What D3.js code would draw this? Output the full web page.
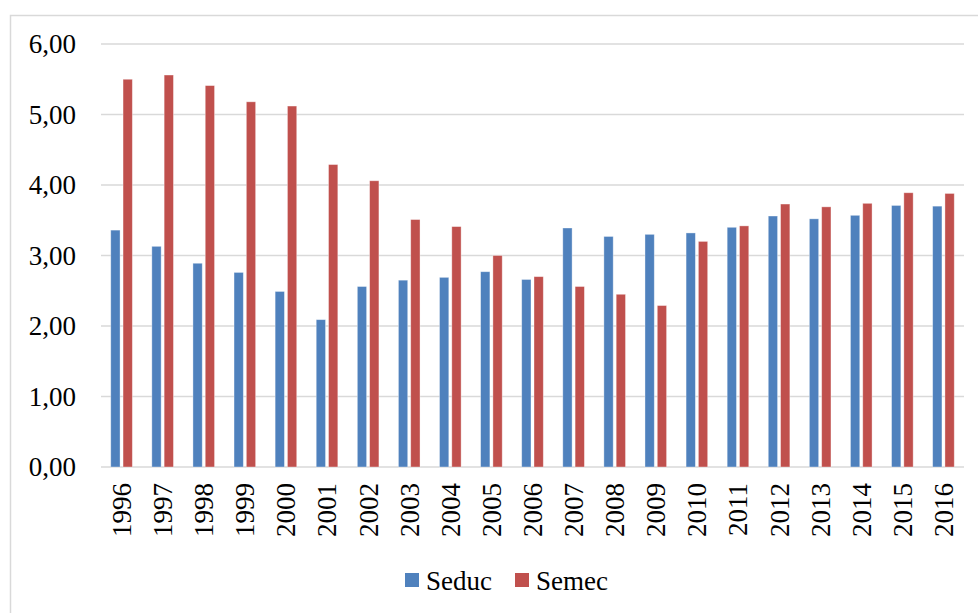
<!DOCTYPE html>
<html>
<head>
<meta charset="utf-8">
<script src="https://cdn.jsdelivr.net/npm/d3@7"></script>
<style>
  html, body { margin: 0; padding: 0; background: #fff; }
  svg { display: block; font-family: "Liberation Serif", "Times New Roman", serif; }
</style>
</head>
<body>
<svg id="chart" width="978" height="613"></svg>
<script>
const years = ["1996","1997","1998","1999","2000","2001","2002","2003","2004","2005","2006","2007","2008","2009","2010","2011","2012","2013","2014","2015","2016"];
const seduc = [3.36,3.13,2.89,2.76,2.49,2.09,2.56,2.65,2.69,2.77,2.66,3.39,3.27,3.30,3.32,3.40,3.56,3.52,3.57,3.71,3.70];
const semec = [5.50,5.56,5.41,5.18,5.12,4.29,4.06,3.51,3.41,3.00,2.70,2.56,2.45,2.29,3.20,3.42,3.73,3.69,3.74,3.89,3.88];
const seriesNames = ["Seduc","Semec"];
const seriesColors = ["#4F81BD","#C0504D"];
const yTicks = [0,1,2,3,4,5,6];
const yTickLabels = ["0,00","1,00","2,00","3,00","4,00","5,00","6,00"];

const svg = d3.select("#chart");

// outer chart border
svg.append("rect")
  .attr("x", 10.5).attr("y", 15.5)
  .attr("width", 980).attr("height", 620)
  .attr("fill", "none").attr("stroke", "#D9D9D9").attr("stroke-width", 1.5);

const x0 = d3.scaleBand().domain(years).range([101, 964]).padding(0);
const groupW = 21.6;
const x1 = d3.scaleBand().domain(seriesNames)
  .range([x0.bandwidth()/2 - groupW/2, x0.bandwidth()/2 + groupW/2])
  .paddingInner(0.244).paddingOuter(0);
const y = d3.scaleLinear().domain([0, 6]).range([467, 44]);

// gridlines
svg.append("g").selectAll("line").data(yTicks).join("line")
  .attr("x1", 101).attr("x2", 964)
  .attr("y1", d => y(d)).attr("y2", d => y(d))
  .attr("stroke", "#D9D9D9").attr("stroke-width", 1.5);

// y tick labels
svg.append("g").selectAll("text").data(yTicks).join("text")
  .attr("x", 76).attr("y", d => y(d))
  .attr("dy", "0.35em")
  .attr("text-anchor", "end")
  .attr("font-size", 27)
  .attr("fill", "#000")
  .text((d, i) => yTickLabels[i]);

// bars
const data = years.map((yr, i) => ({ year: yr, values: [seduc[i], semec[i]] }));
const groups = svg.append("g").selectAll("g").data(data).join("g")
  .attr("transform", d => `translate(${x0(d.year)},0)`);
groups.selectAll("rect").data(d => d.values.map((v, j) => ({ name: seriesNames[j], v, j })))
  .join("rect")
  .attr("x", d => x1(d.name))
  .attr("width", x1.bandwidth())
  .attr("y", d => y(d.v))
  .attr("height", d => y(0) - y(d.v))
  .attr("fill", d => seriesColors[d.j])
  .attr("stroke", "rgba(255,255,255,0.45)")
  .attr("stroke-width", 0.8);

// x tick labels (rotated)
svg.append("g").selectAll("text").data(years).join("text")
  .attr("transform", d => `translate(${x0(d) + x0.bandwidth()/2},483) rotate(-90)`)
  .attr("dy", "0.35em")
  .attr("text-anchor", "end")
  .attr("font-size", 27)
  .attr("fill", "#000")
  .text(d => d);

// legend
const legendX = [405, 515];
const legend = svg.append("g").selectAll("g").data(seriesNames).join("g")
  .attr("transform", (d, i) => `translate(${legendX[i]},573)`);
legend.append("rect")
  .attr("width", 14).attr("height", 14)
  .attr("fill", (d, i) => seriesColors[i]);
legend.append("text")
  .attr("x", 21).attr("y", 17)
  .attr("font-size", 27)
  .attr("fill", "#000")
  .text(d => d);
</script>
</body>
</html>
